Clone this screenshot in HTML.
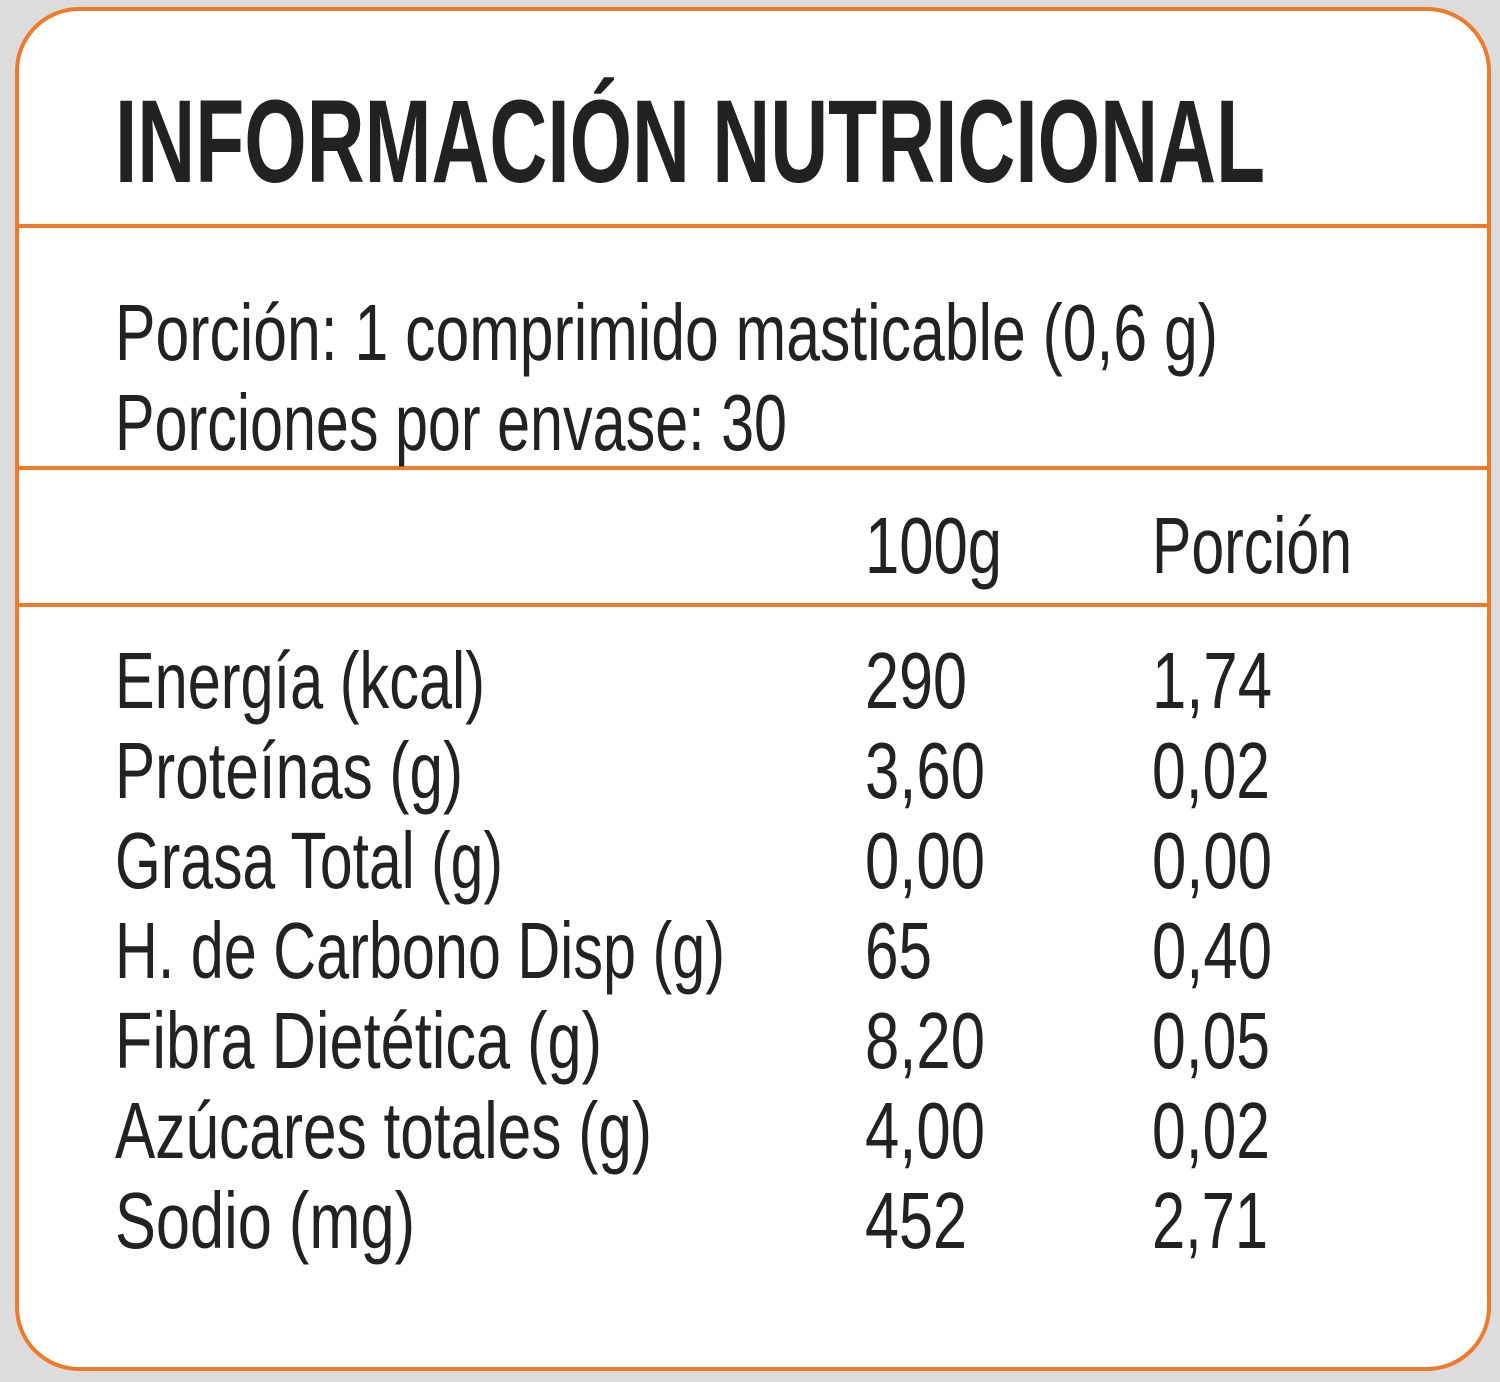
<!DOCTYPE html>
<html lang="es">
<head>
<meta charset="utf-8">
<title>Información Nutricional</title>
<style>
  html,body{margin:0;padding:0;background:#d9d9d9;}
  svg{display:block;}
  text{font-family:"Liberation Sans Narrow","Liberation Sans",sans-serif;fill:#222;}
</style>
</head>
<body>
<svg width="1500" height="1382" viewBox="0 0 1500 1382">
  <rect x="0" y="0" width="1500" height="1382" fill="#dcdcdc"/>
  <rect x="17" y="9" width="1472" height="1360" rx="62" ry="62" fill="#ffffff" stroke="#f07a2a" stroke-width="4"/>
  <line x1="19" y1="226" x2="1487" y2="226" stroke="#f07a2a" stroke-width="4"/>
  <line x1="19" y1="468" x2="1487" y2="468" stroke="#f07a2a" stroke-width="4"/>
  <line x1="19" y1="605" x2="1487" y2="605" stroke="#f07a2a" stroke-width="4"/>

  <text x="115" y="182" font-size="118" font-weight="bold" textLength="1150" lengthAdjust="spacingAndGlyphs">INFORMACIÓN NUTRICIONAL</text>

  <text x="115" y="360" font-size="80" textLength="1103" lengthAdjust="spacingAndGlyphs">Porción: 1 comprimido masticable (0,6 g)</text>
  <text x="115" y="450" font-size="80" textLength="672" lengthAdjust="spacingAndGlyphs">Porciones por envase: 30</text>

  <text x="865" y="573" font-size="80" textLength="137" lengthAdjust="spacingAndGlyphs">100g</text>
  <text x="1152" y="573" font-size="80" textLength="200" lengthAdjust="spacingAndGlyphs">Porción</text>

  <g>
    <text x="115" y="708" font-size="80" textLength="370" lengthAdjust="spacingAndGlyphs">Energía (kcal)</text>
    <text x="865" y="708" font-size="80" textLength="102" lengthAdjust="spacingAndGlyphs">290</text>
    <text x="1152" y="708" font-size="80" textLength="120" lengthAdjust="spacingAndGlyphs">1,74</text>

    <text x="115" y="798" font-size="80" textLength="348" lengthAdjust="spacingAndGlyphs">Proteínas (g)</text>
    <text x="865" y="798" font-size="80" textLength="120" lengthAdjust="spacingAndGlyphs">3,60</text>
    <text x="1152" y="798" font-size="80" textLength="118" lengthAdjust="spacingAndGlyphs">0,02</text>

    <text x="115" y="888" font-size="80" textLength="388" lengthAdjust="spacingAndGlyphs">Grasa Total (g)</text>
    <text x="865" y="888" font-size="80" textLength="120" lengthAdjust="spacingAndGlyphs">0,00</text>
    <text x="1152" y="888" font-size="80" textLength="120" lengthAdjust="spacingAndGlyphs">0,00</text>

    <text x="115" y="978" font-size="80" textLength="610" lengthAdjust="spacingAndGlyphs">H. de Carbono Disp (g)</text>
    <text x="865" y="978" font-size="80" textLength="67" lengthAdjust="spacingAndGlyphs">65</text>
    <text x="1152" y="978" font-size="80" textLength="120" lengthAdjust="spacingAndGlyphs">0,40</text>

    <text x="115" y="1068" font-size="80" textLength="487" lengthAdjust="spacingAndGlyphs">Fibra Dietética (g)</text>
    <text x="865" y="1068" font-size="80" textLength="120" lengthAdjust="spacingAndGlyphs">8,20</text>
    <text x="1152" y="1068" font-size="80" textLength="118" lengthAdjust="spacingAndGlyphs">0,05</text>

    <text x="115" y="1158" font-size="80" textLength="537" lengthAdjust="spacingAndGlyphs">Azúcares totales (g)</text>
    <text x="865" y="1158" font-size="80" textLength="120" lengthAdjust="spacingAndGlyphs">4,00</text>
    <text x="1152" y="1158" font-size="80" textLength="118" lengthAdjust="spacingAndGlyphs">0,02</text>

    <text x="115" y="1248" font-size="80" textLength="300" lengthAdjust="spacingAndGlyphs">Sodio (mg)</text>
    <text x="865" y="1248" font-size="80" textLength="102" lengthAdjust="spacingAndGlyphs">452</text>
    <text x="1152" y="1248" font-size="80" textLength="116" lengthAdjust="spacingAndGlyphs">2,71</text>
  </g>
</svg>
</body>
</html>
